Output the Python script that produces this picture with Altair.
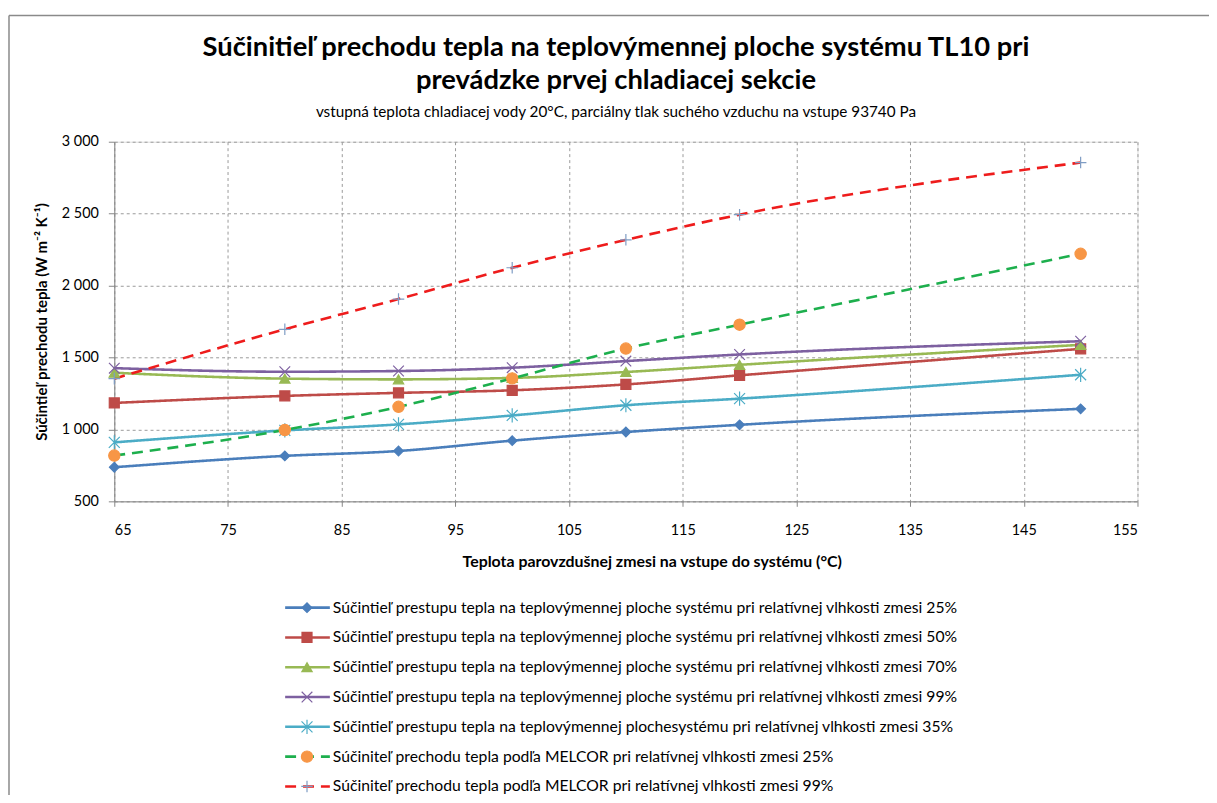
import altair as alt
import pandas as pd

FONT = "Lato, 'Liberation Sans', sans-serif"

# ---------------- data ----------------
x_temp = [65, 80, 90, 100, 110, 120, 150]
s25 = [737, 816, 850, 922, 982, 1032, 1143]
s50 = [1184, 1233, 1254, 1272, 1313, 1376, 1560]
s70 = [1394, 1353, 1348, 1358, 1399, 1449, 1588]
s99 = [1426, 1401, 1406, 1429, 1475, 1521, 1613]
s35 = [910, 993, 1035, 1097, 1168, 1214, 1380]
melcor25 = [818, 996, 1157, 1355, 1562, 1728, 2221]
melcor99 = [1353, 1696, 1906, 2124, 2318, 2493, 2855]

names = [
    "Súčintieľ prestupu tepla na teplovýmennej ploche systému pri relatívnej vlhkosti zmesi 25%",
    "Súčintieľ prestupu tepla na teplovýmennej ploche  systému pri relatívnej vlhkosti zmesi 50%",
    "Súčintieľ prestupu tepla na teplovýmennej ploche systému pri relatívnej vlhkosti zmesi 70%",
    "Súčintieľ prestupu tepla na teplovýmennej ploche systému pri relatívnej vlhkosti zmesi 99%",
    "Súčintieľ prestupu tepla na teplovýmennej plochesystému pri relatívnej vlhkosti zmesi 35%",
    "Súčiniteľ prechodu tepla podľa MELCOR  pri relatívnej vlhkosti zmesi 25%",
    "Súčiniteľ prechodu tepla podľa MELCOR  pri relatívnej vlhkosti zmesi 99%",
]
values = [s25, s50, s70, s99, s35, melcor25, melcor99]

x_ticks = [65, 75, 85, 95, 105, 115, 125, 135, 145, 155]
y_ticks = [500, 1000, 1500, 2000, 2500, 3000]

title_lines = ["Súčinitieľ prechodu tepla na teplovýmennej ploche systému TL10 pri",
               "prevádzke prvej chladiacej sekcie"]
subtitle = "vstupná teplota chladiacej vody 20°C, parciálny tlak suchého vzduchu na vstupe 93740 Pa"
x_title = "Teplota parovzdušnej zmesi na vstupe do systému (°C)"
y_title = "Súčintieľ prechodu tepla (W m⁻² K⁻¹)"

# ---------------- styles ----------------
line_colors = ["#4A7EBB", "#BE4B48", "#98B954", "#7D60A0", "#4BACC6", "#1DAF4D", "#EE1C1C"]
dashes = [[1, 0], [1, 0], [1, 0], [1, 0], [1, 0], [11, 7], [11, 7]]
widths = [2.6, 2.6, 2.6, 2.6, 2.6, 3, 3]
shapes = ["diamond", "square", "triangle-up",
          "M-1,-1L1,1M-1,1L1,-1",
          "M-1,-1L1,1M-1,1L1,-1M0,-1.3L0,1.3",
          "circle",
          "M-1,0L1,0M0,-1L0,1"]
fills = ["#4A7EBB", "#BE4B48", "#98B954", "transparent", "transparent", "#F79646", "transparent"]
strokes = ["#4A7EBB", "#BE4B48", "#98B954", "#7D60A0", "#4BACC6", "#F79646", "#7E9CC4"]
sizes = [95, 135, 145, 150, 150, 160, 170]

rows = []
for n, vals in zip(names, values):
    for t, v in zip(x_temp, vals):
        rows.append({"series": n, "t": t, "v": v})
df = pd.DataFrame(rows)
leg_df = pd.DataFrame({"series": names})

color_s = alt.Scale(domain=names, range=line_colors)
dash_s = alt.Scale(domain=names, range=dashes)
width_s = alt.Scale(domain=names, range=widths)
shape_s = alt.Scale(domain=names, range=shapes)
fill_s = alt.Scale(domain=names, range=fills)
stroke_s = alt.Scale(domain=names, range=strokes)
size_s = alt.Scale(domain=names, range=sizes)

GRID = "#9a9a9a"
AX = "#868686"

x_enc = alt.X("t:Q", scale=alt.Scale(domain=[65, 155], nice=False, zero=False),
              axis=alt.Axis(values=x_ticks, title=x_title, labelFont=FONT, labelFontSize=14.5,
                            labelColor="black", labelPadding=17, tickSize=5, tickColor=AX,
                            domainColor=AX, gridColor=GRID, gridDash=[3, 3], gridWidth=1,
                            titleFont=FONT, titleFontSize=16, titleFontWeight="bold",
                            titleColor="black", titleX=541, titleY=53, titleBaseline="top"))
y_enc = alt.Y("v:Q", scale=alt.Scale(domain=[500, 3000], nice=False, zero=False),
              axis=alt.Axis(values=y_ticks, title=y_title,
                            labelExpr="replace(format(datum.value, ','), ',', ' ')",
                            labelFont=FONT, labelFontSize=14.5, labelColor="black",
                            labelPadding=10, tickSize=6, tickColor=AX, domainColor=AX,
                            gridColor=GRID, gridDash=[3, 3], gridWidth=1,
                            titleFont=FONT, titleFontSize=15, titleFontWeight="bold",
                            titleColor="black", titleX=-73, titleY=181,
                            titleBaseline="middle", titleAngle=-90))

base = alt.Chart(df)
lines = base.mark_line(interpolate="monotone").encode(
    x=x_enc, y=y_enc,
    color=alt.Color("series:N", scale=color_s, legend=None),
    strokeDash=alt.StrokeDash("series:N", scale=dash_s, legend=None),
    strokeWidth=alt.StrokeWidth("series:N", scale=width_s, legend=None),
)
points = base.mark_point(filled=True, opacity=1, strokeWidth=1.2).encode(
    x="t:Q", y="v:Q",
    shape=alt.Shape("series:N", scale=shape_s, legend=None),
    fill=alt.Fill("series:N", scale=fill_s, legend=None),
    stroke=alt.Stroke("series:N", scale=stroke_s, legend=None),
    size=alt.Size("series:N", scale=size_s, legend=None),
)
main = alt.layer(lines, points)

# legend drawn from the series names
leg_y = alt.Y("series:N", sort=names,
              scale=alt.Scale(type="point", domain=names, range=[469, 649], padding=0),
              axis=None)
lbase = alt.Chart(leg_df)
leg_rule = lbase.mark_rule().encode(
    x=alt.value(172), x2=alt.value(217), y=leg_y,
    color=alt.Color("series:N", scale=color_s, legend=None),
    strokeDash=alt.StrokeDash("series:N", scale=dash_s, legend=None),
    strokeWidth=alt.StrokeWidth("series:N", scale=width_s, legend=None),
)
leg_pts = lbase.mark_point(filled=True, opacity=1, strokeWidth=1.2).encode(
    x=alt.value(194), y=leg_y,
    shape=alt.Shape("series:N", scale=shape_s, legend=None),
    fill=alt.Fill("series:N", scale=fill_s, legend=None),
    stroke=alt.Stroke("series:N", scale=stroke_s, legend=None),
    size=alt.Size("series:N", scale=size_s, legend=None),
)
leg_txt = lbase.mark_text(align="left", baseline="middle", font=FONT, fontSize=15.8,
                          color="black").encode(
    x=alt.value(220), y=leg_y, text="series:N")
legend = alt.layer(leg_rule, leg_pts, leg_txt)

# outer frame of the chart area
fr = alt.Chart(pd.DataFrame({"a": [0]}))
frame_top = fr.mark_rule(color="#8a8a8a", strokeWidth=1.5).encode(
    x=alt.value(-106), x2=alt.value(1102), y=alt.value(-127))
frame_left = fr.mark_rule(color="#8a8a8a", strokeWidth=1.5).encode(
    x=alt.value(-106), y=alt.value(-127), y2=alt.value(660))

chart = alt.layer(frame_top, frame_left, main, legend).resolve_scale(
    y="independent"
).properties(
    width=1030, height=362,
    autosize=alt.AutoSizeParams(type="none"),
    padding={"left": 107, "top": 132, "right": 72, "bottom": 293},
    title=alt.Title(text=title_lines, subtitle=subtitle, font=FONT, fontSize=27.5,
                    fontWeight="bold", lineHeight=34, color="black", anchor="middle",
                    frame="group", dx=-10, dy=106, offset=0,
                    subtitleFont=FONT, subtitleFontSize=15.4, subtitleColor="black",
                    subtitlePadding=10),
).configure_view(strokeOpacity=0).configure(background="white")

chart.save("out.html", embed_options={"renderer": "svg", "actions": False})
